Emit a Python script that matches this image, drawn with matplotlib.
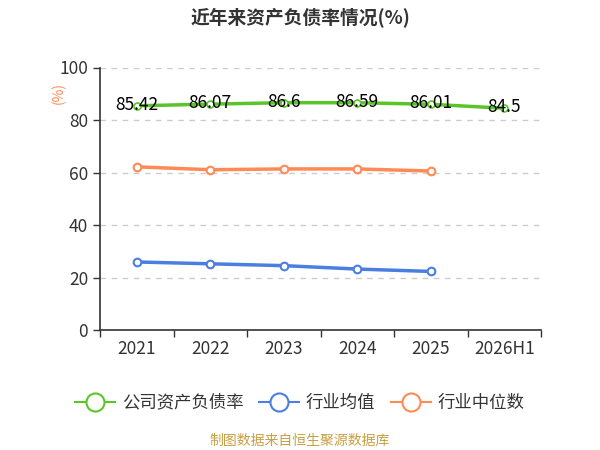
import matplotlib
matplotlib.use("Agg")
import matplotlib.pyplot as plt
import numpy as np
from matplotlib.lines import Line2D

plt.rcParams['font.family'] = ['Noto Sans CJK SC', 'DejaVu Sans']

# data
years = ['2021', '2022', '2023', '2024', '2025', '2026H1']
company = [85.42, 86.07, 86.6, 86.59, 86.01, 84.5]
industry_avg = [26.0, 25.3, 24.6, 23.3, 22.4]
industry_median = [62.2, 61.1, 61.4, 61.4, 60.6]

green = '#5ac528'
blue = '#4a7ee0'
orange = '#ff8a56'

fig = plt.figure(figsize=(6, 4.5), dpi=100)
ax = fig.add_axes([0.1667, 0.266, 0.735, 0.584])

x = np.arange(len(years))

ax.plot(x, company, color=green, lw=2.5, marker='o', ms=5,
        mfc='white', mec=green, mew=1.2, zorder=3)
ax.plot(x[:len(industry_avg)], industry_avg, color=blue, lw=2.5, marker='o', ms=5.5,
        mfc='white', mec=blue, mew=1.5, zorder=3)
ax.plot(x[:len(industry_median)], industry_median, color=orange, lw=2.5, marker='o', ms=5.5,
        mfc='white', mec=orange, mew=1.5, zorder=3)

for xi, v in zip(x, company):
    ax.text(xi, v + 0.3, f'{v:g}', ha='center', va='center', fontsize=12.5,
            color='black', zorder=4)

ax.set_xlim(-0.5, len(years) - 0.5)
ax.set_ylim(0, 100)
ax.set_yticks([0, 20, 40, 60, 80, 100])
ax.tick_params(axis='y', labelsize=12.5, colors='#333333', length=5, width=1)

ax.set_xticks(np.arange(-0.5, len(years), 1))
ax.set_xticklabels([])
ax.set_xticks(x, minor=True)
ax.set_xticklabels(years, minor=True)
ax.tick_params(axis='x', which='major', length=5, width=1, color='#333333')
ax.tick_params(axis='x', which='minor', length=0, labelsize=12.5, pad=7,
               labelcolor='#333333')

for yv in [20, 40, 60, 80, 100]:
    ax.axhline(yv, color='#cccccc', lw=1, ls=(0, (4, 4)), zorder=1)

for s in ['top', 'right']:
    ax.spines[s].set_visible(False)
for s in ['left', 'bottom']:
    ax.spines[s].set_color('#333333')
    ax.spines[s].set_linewidth(1.2)

fig.text(0.5, 0.96, '近年来资产负债率情况(%)', ha='center', va='center',
         fontsize=13.5, fontweight='bold', color='#333333')
fig.text(0.097, 0.793, '(%)', rotation=90, ha='center', va='center',
         fontsize=10, color=orange)

handles = [
    Line2D([], [], color=green, lw=1.5, marker='o', ms=13, mfc='white', mec=green, mew=1.5),
    Line2D([], [], color=blue, lw=1.5, marker='o', ms=13, mfc='white', mec=blue, mew=1.5),
    Line2D([], [], color=orange, lw=1.5, marker='o', ms=13, mfc='white', mec=orange, mew=1.5),
]
fig.legend(handles, ['公司资产负债率', '行业均值', '行业中位数'], loc='center',
           bbox_to_anchor=(0.5, 0.105), ncol=3, frameon=False, fontsize=12.5,
           handlelength=2.3, handletextpad=0.4, columnspacing=0.9,
           labelcolor='#333333')

fig.text(0.5, 0.02, '制图数据来自恒生聚源数据库', ha='center', va='center',
         fontsize=10, color='#c9a043')

fig.savefig('out.png', dpi=100)
